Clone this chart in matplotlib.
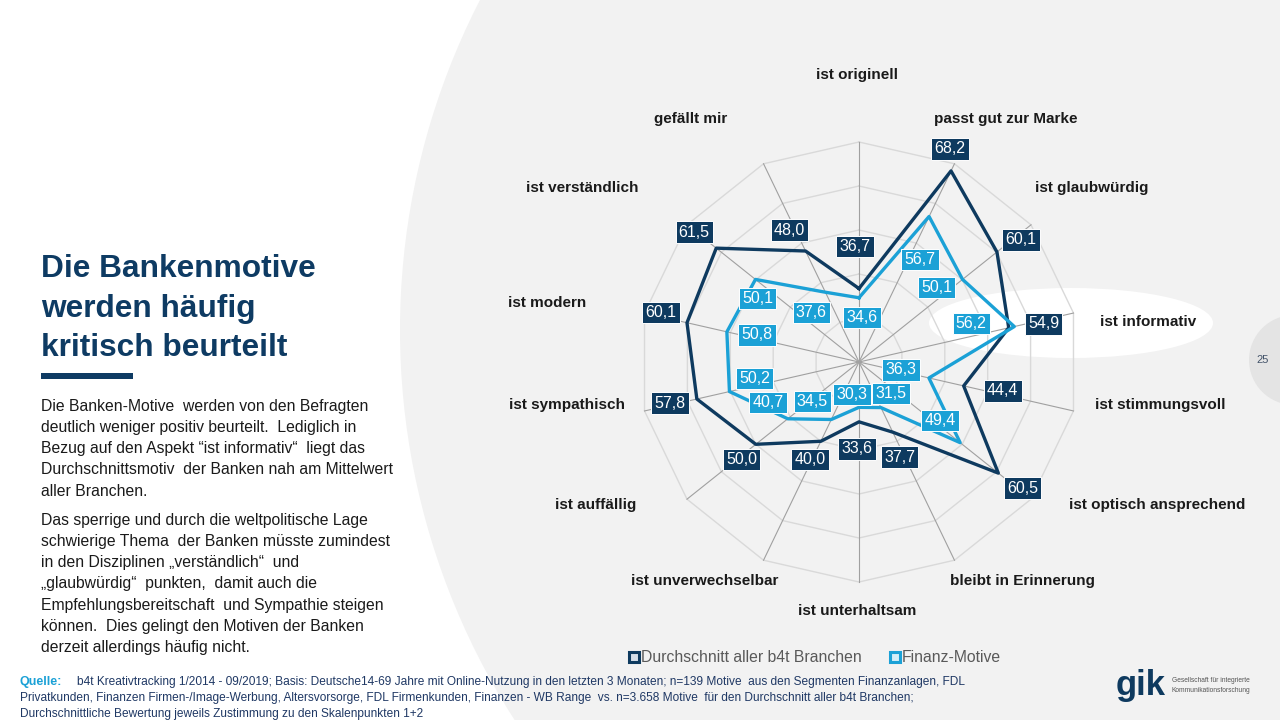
import numpy as np
import matplotlib
matplotlib.use("Agg")
import matplotlib.pyplot as plt
from matplotlib.patches import Circle, Ellipse, Rectangle
from matplotlib.lines import Line2D
from matplotlib import font_manager

plt.rcParams['font.family'] = ['Liberation Sans', 'DejaVu Sans']

# data
attributes = ["ist originell", "passt gut zur Marke", "ist glaubwürdig", "ist informativ",
              "ist stimmungsvoll", "ist optisch ansprechend", "bleibt in Erinnerung",
              "ist unterhaltsam", "ist unverwechselbar", "ist auffällig", "ist sympathisch",
              "ist modern", "ist verständlich", "gefällt mir"]
avg_all = [36.7, 68.2, 60.1, 54.9, 44.4, 60.5, 37.7, 33.6, 40.0, 50.0, 57.8, 60.1, 61.5, 48.0]
finanz = [34.6, 56.7, 50.1, 56.2, 36.3, 49.4, 31.5, 30.3, 34.5, 40.7, 50.2, 50.8, 50.1, 37.6]
series_names = ["Durchschnitt aller b4t Branchen", "Finanz-Motive"]
grid_values = [30, 40, 50, 60, 70]
r_min, r_max = 20, 70

# layout (pixel offsets of labels)
avg_offsets = [(-4, 42), (-1, 22), (24, 12), (35, 4), (39, -5), (24, -15), (7, -25),
               (-2, -27), (-11, -18), (-14, -15), (-27, -4), (-26, 10), (-22, 16), (-16, 21)]
fin_offsets = [(3, -20), (-9, -43), (-26, -8), (-43, 3), (-28, 8), (-20, 22), (10, 14),
               (-7, 13), (-19, 18), (-20, 16), (25, 13), (30, -3), (2, -19), (-14, -20)]
attr_offsets = [(-2, 67), (51, 45), (61, 37), (75, -9), (87, 6), (126, -6), (68, -21),
                (-2, -29), (-59, -21), (-91, -6), (-78, 6), (-97, 10), (-105, 37), (-73, 45)]

DARK = "#0E3A5F"
LIGHT = "#1BA1D6"
NAVY = "#0E3B63"

title_lines = ["Die Bankenmotive", "werden häufig", "kritisch beurteilt"]
body_p1 = ["Die Banken-Motive  werden von den Befragten",
           "deutlich weniger positiv beurteilt.  Lediglich in",
           "Bezug auf den Aspekt “ist informativ“  liegt das",
           "Durchschnittsmotiv  der Banken nah am Mittelwert",
           "aller Branchen."]
body_p2 = ["Das sperrige und durch die weltpolitische Lage",
           "schwierige Thema  der Banken müsste zumindest",
           "in den Disziplinen „verständlich“  und",
           "„glaubwürdig“  punkten,  damit auch die",
           "Empfehlungsbereitschaft  und Sympathie steigen",
           "können.  Dies gelingt den Motiven der Banken",
           "derzeit allerdings häufig nicht."]
source_lines = ["b4t Kreativtracking 1/2014 - 09/2019; Basis: Deutsche14-69 Jahre mit Online-Nutzung in den letzten 3 Monaten; n=139 Motive  aus den Segmenten Finanzanlagen, FDL",
                "Privatkunden, Finanzen Firmen-/Image-Werbung, Altersvorsorge, FDL Firmenkunden, Finanzen - WB Range  vs. n=3.658 Motive  für den Durchschnitt aller b4t Branchen;",
                "Durchschnittliche Bewertung jeweils Zustimmung zu den Skalenpunkten 1+2"]

names = {f.name for f in font_manager.fontManager.ttflist}
if 'Liberation Sans Narrow' in names:
    foot_font, foot_size = 'Liberation Sans Narrow', 10.4
else:
    foot_font, foot_size = 'Liberation Sans', 8.6

fig = plt.figure(figsize=(12.8, 7.2), dpi=100)
fig.patch.set_facecolor("white")

# background in pixel coordinates
bg = fig.add_axes([0, 0, 1, 1])
bg.set_xlim(0, 1280)
bg.set_ylim(720, 0)
bg.axis("off")
bg.add_patch(Circle((1121, 330), 721, fc="#F2F2F2", ec="none"))
bg.add_patch(Ellipse((1071, 323), 284, 70, fc="white", ec="none"))
bg.add_patch(Circle((1294, 360), 45, fc="#E4E4E4", ec="none"))
bg.text(1263, 360, "25", fontsize=8, color="#44546A", ha="center", va="center")

for i, line in enumerate(title_lines):
    bg.text(41, 269 + i * 39.5, line, fontsize=22.8, fontweight="bold", color=NAVY,
            ha="left", va="center")
bg.add_patch(Rectangle((41, 373), 92, 6, fc=NAVY, ec="none"))

for i, line in enumerate(body_p1):
    bg.text(41, 406 + i * 21.3, line, fontsize=11.3, color="#1a1a1a", ha="left", va="center")
for i, line in enumerate(body_p2):
    bg.text(41, 520 + i * 21.3, line, fontsize=11.3, color="#1a1a1a", ha="left", va="center")

bg.text(20, 682, "Quelle:", fontsize=9, color=LIGHT, fontweight="bold", ha="left", va="center")
bg.text(77, 682, source_lines[0], fontsize=foot_size, family=foot_font, color="#1F3864",
        ha="left", va="center")
for i, line in enumerate(source_lines[1:]):
    bg.text(20, 698 + i * 15.5, line, fontsize=foot_size, family=foot_font, color="#1F3864",
            ha="left", va="center")

# logo
bg.text(1116, 686, "gik", fontsize=25, fontweight="bold", color=DARK, ha="left", va="center")
bg.text(1172, 681, "Gesellschaft für integrierte", fontsize=4.8, color="#555555",
        ha="left", va="center")
bg.text(1172, 690, "Kommunikationsforschung", fontsize=4.8, color="#555555",
        ha="left", va="center")

# radar chart
ax = fig.add_axes([(859 - 220) / 1280, (358 - 220) / 720, 440 / 1280, 440 / 720],
                  projection="polar")
ax.set_theta_zero_location("N")
ax.set_theta_direction(-1)
ax.set_ylim(r_min, r_max)
ax.grid(False)
ax.set_xticks([])
ax.set_yticks([])
ax.spines["polar"].set_visible(False)
ax.patch.set_alpha(0)

n = len(attributes)
theta = np.linspace(0, 2 * np.pi, n, endpoint=False)
theta_closed = np.append(theta, theta[0])

for g in grid_values:
    ax.plot(theta_closed, [g] * (n + 1), color="#D9D9D9", lw=1.0, zorder=1, clip_on=False)
for t in theta:
    ax.plot([t, t], [r_min, r_max], color="#A0A0A0", lw=0.8, zorder=1, clip_on=False)

ax.plot(theta_closed, avg_all + avg_all[:1], color=DARK, lw=2.4, zorder=3, clip_on=False)
ax.plot(theta_closed, finanz + finanz[:1], color=LIGHT, lw=2.4, zorder=3, clip_on=False)


def fmt(v):
    return f"{v:.1f}".replace(".", ",")


for vals, offs, col in [(avg_all, avg_offsets, DARK), (finanz, fin_offsets, LIGHT)]:
    for t, v, off in zip(theta, vals, offs):
        ax.annotate(fmt(v), xy=(t, v), xytext=off, textcoords="offset pixels",
                    ha="center", va="center", fontsize=11.5, color="white", zorder=5,
                    annotation_clip=False,
                    bbox=dict(boxstyle="square,pad=0.2", fc=col, ec="white", lw=0.7))

for t, lab, off in zip(theta, attributes, attr_offsets):
    ax.annotate(lab, xy=(t, r_max), xytext=off, textcoords="offset pixels",
                ha="center", va="center", fontsize=11, fontweight="bold", color="#1a1a1a",
                annotation_clip=False)

handles = [Line2D([], [], ls="none", marker="s", markersize=7.5, mfc="#D5DEE8", mec=DARK, mew=2.2),
           Line2D([], [], ls="none", marker="s", markersize=7.5, mfc="#D3EEF8", mec=LIGHT, mew=2.2)]
fig.legend(handles, series_names, loc="center", bbox_to_anchor=(815 / 1280, 1 - 658 / 720),
           ncol=2, frameon=False, fontsize=11.3, handlelength=0.6, handletextpad=0.15,
           columnspacing=1.8, labelcolor="#595959")

fig.savefig("out.png", dpi=100)
